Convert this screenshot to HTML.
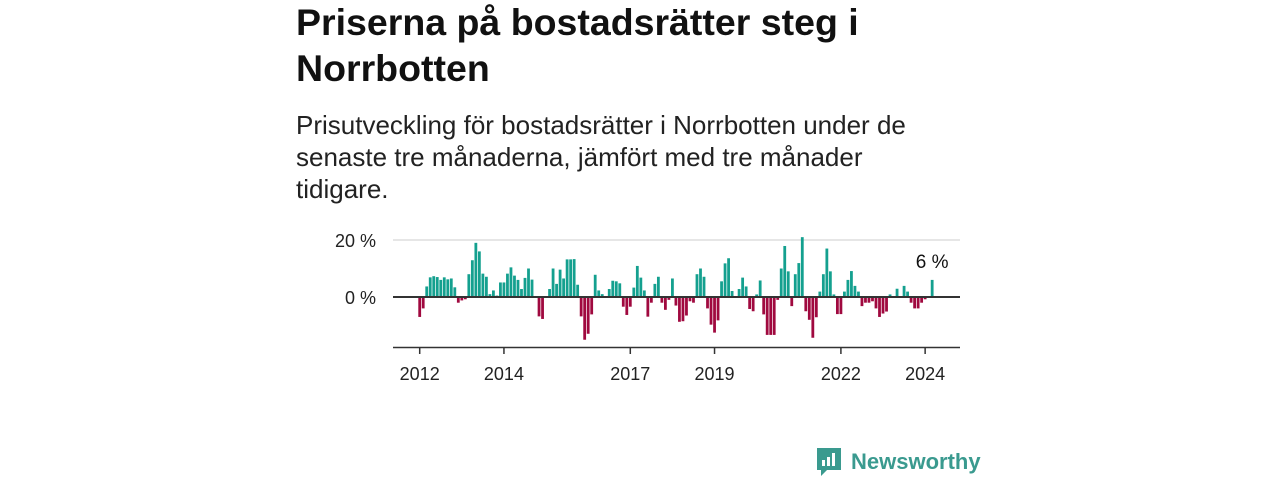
<!DOCTYPE html>
<html><head><meta charset="utf-8">
<style>
body{margin:0;width:1280px;height:480px;background:#fff;font-family:"Liberation Sans",sans-serif;color:#111;overflow:hidden;position:relative}
#title{position:absolute;left:296px;top:-1px;margin:0;font-size:37.5px;font-weight:bold;line-height:46px;width:660px;color:#111}
#sub{position:absolute;left:296px;top:109px;margin:0;font-size:26px;line-height:32px;width:650px;color:#222}
svg{position:absolute;left:0;top:0}
#logo{position:absolute;left:815px;top:446px;display:flex;align-items:center}
#logo span{font-size:22px;font-weight:bold;color:#3a9a8f;margin-left:8px}
</style></head><body>
<h1 id="title">Priserna på bostadsrätter steg i Norrbotten</h1>
<p id="sub">Prisutveckling för bostadsrätter i Norrbotten under de senaste tre månaderna, jämfört med tre månader tidigare.</p>
<svg id="chart" width="1280" height="480"></svg>
<div id="logo">
<svg width="28" height="32" style="position:static"><path d="M2 2h24v22H12l-6 6v-6H2z" fill="#3a9a8f"/><rect x="7" y="14" width="3" height="6" fill="#fff"/><rect x="12" y="11" width="3" height="9" fill="#fff"/><rect x="17" y="7" width="3" height="13" fill="#fff"/></svg>
<span>Newsworthy</span></div>
<script>
const values=[-7,-4,3.7,6.9,7.3,7,6,6.9,6.2,6.5,3.4,-2,-1.2,-0.8,8,12.9,19,16,8.2,7.1,1,2.3,0.5,5.1,
5.1,8.2,10.4,7.5,6,2.8,6.7,10,6.1,0,-6.8,-7.7,0,2.8,10,4.6,9.6,6.5,13.2,13.2,13.3,4.3,-6.8,-15,
-12.9,-6.1,7.8,2.3,1,0,2.8,5.7,5.5,4.8,-3.4,-6.3,-3.4,3.3,10.9,6.8,2.3,-6.9,-2,4.6,7.1,-2,-4.5,-1,
6.5,-3,-8.7,-8.5,-6.5,-1.5,-2,8,10,7.1,-4,-9.7,-12.5,-8.2,5.5,11.8,13.6,2.1,0,2.8,6.8,3.7,-4.2,-5,
0.9,5.8,-6.1,-13.3,-13.3,-13.3,-1,10,17.9,9,-3.2,8,11.9,21,-5,-8,-14.3,-7.1,1.9,8,17,9,0.9,-6,-6,
1.9,6,9.1,3.9,1.9,-3.2,-2,-2,-1.5,-4,-7,-5.8,-5.1,0.9,0,2.9,0,3.9,1.9,-2,-4,-4,-2,-0.8,0,6];
const yTicks=[0,20];
const yTickLabels=["0 %","20 %"];
const yearTicks=[2012,2014,2017,2019,2022,2024];
const startYear=2012;
const NS="http://www.w3.org/2000/svg";
const svg=document.getElementById('chart');
const x0=393,x1=960,zeroY=297,pxPer=2.85,firstX=419.7,step=3.51;
const y=v=>zeroY-v*pxPer;
const xm=i=>firstX+i*step;
const xYear=yr=>xm((yr-startYear)*12);
function mk(t,a){const e=document.createElementNS(NS,t);for(const k in a)e.setAttribute(k,a[k]);svg.appendChild(e);return e;}
yTicks.forEach((t,i)=>{
 if(t!==0){const g=mk('line',{x1:x0,x2:x1,y1:y(t),y2:y(t),stroke:'#ddd','stroke-width':1.5});
 
 }
 const l=mk('text',{x:376,y:y(t)+7,'text-anchor':'end','font-size':18,fill:'#222','font-family':'Liberation Sans, sans-serif'});
 l.textContent=yTickLabels[i];
 
 
});
values.forEach((v,i)=>{
 const r=mk('rect',{x:xm(i)-1.4,width:2.8,y:v>=0?y(v):zeroY,height:Math.abs(v)*pxPer,fill:v>=0?'#14a08f':'#a0093f'});
 
 
});
const z=mk('line',{x1:x0,x2:x1,y1:zeroY,y2:zeroY,stroke:'#333','stroke-width':2});


const ax=mk('line',{x1:x0,x2:x1,y1:347.5,y2:347.5,stroke:'#333','stroke-width':1.5});


yearTicks.forEach(yr=>{
 const tk=mk('line',{x1:xYear(yr),x2:xYear(yr),y1:347,y2:354,stroke:'#333','stroke-width':1.5});
 
 
 const l=mk('text',{x:xYear(yr),y:380,'text-anchor':'middle','font-size':18,fill:'#222','font-family':'Liberation Sans, sans-serif'});
 l.textContent=yr;
 
 
});
const last=values.length-1;
const an=mk('text',{x:xm(last),y:268,'text-anchor':'middle','font-size':19,fill:'#111','font-family':'Liberation Sans, sans-serif'});
an.textContent=Math.round(values[last])+' %';


</script>
</body></html>
